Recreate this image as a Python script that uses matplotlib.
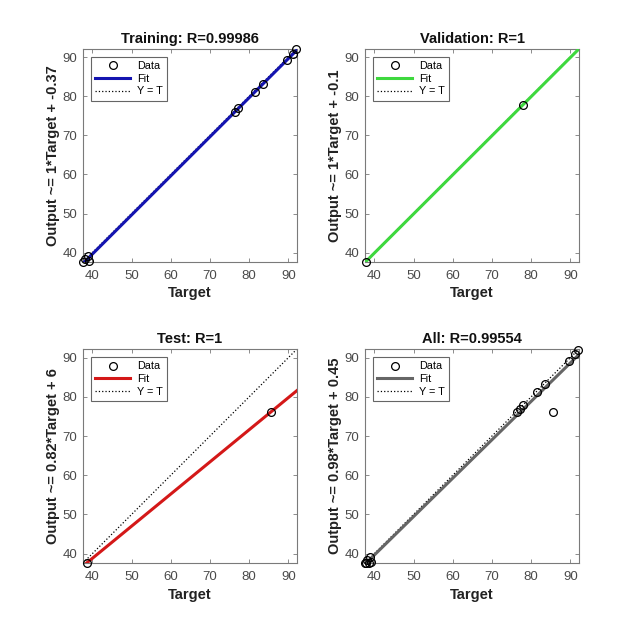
import matplotlib
matplotlib.use("Agg")
import matplotlib.pyplot as plt
import numpy as np

plt.rcParams['font.family'] = ['Liberation Sans', 'DejaVu Sans']

# values
lim = [37.6, 92.2]
ticks = [40, 50, 60, 70, 80, 90]

train_t = [37.7, 38.1, 38.9, 39.2, 76.3, 77.1, 81.5, 83.5, 89.6, 91.3, 92.0]
train_y = [37.7, 38.4, 39.2, 37.8, 76.0, 76.9, 81.2, 83.2, 89.2, 90.8, 92.0]

val_t = [37.8, 78.0]
val_y = [37.7, 77.8]

test_t = [38.6, 85.6]
test_y = [37.6, 76.0]

all_t = train_t + val_t + test_t
all_y = train_y + val_y + test_y

titles = ['Training: R=0.99986', 'Validation: R=1', 'Test: R=1', 'All: R=0.99554']
slopes = [1.0, 1.0, 0.82, 0.98]
intercepts = [-0.37, -0.1, 6.0, 0.45]
ylabels = ['Output ~= 1*Target + -0.37', 'Output ~= 1*Target + -0.1',
           'Output ~= 0.82*Target + 6', 'Output ~= 0.98*Target + 0.45']
fit_colors = ['#1414b0', '#3ed83e', '#d41818', '#666666']
targets = [train_t, val_t, test_t, all_t]
outputs = [train_y, val_y, test_y, all_y]

W, H = 640, 634
fig = plt.figure(figsize=(W / 100, H / 100), dpi=100)

# axes boxes in pixels: left, top, right, bottom
boxes = [(83, 48.5, 297, 262), (365, 48.5, 579, 262),
         (83, 349, 297, 563), (365, 349, 579, 563)]

spine_col = '#7a7a7a'
text_col = '#4a4a4a'

for i in range(4):
    l, t, r, b = boxes[i]
    ax = fig.add_axes([l / W, 1 - b / H, (r - l) / W, (b - t) / H])
    x = np.array(lim)
    ax.plot(targets[i], outputs[i], 'o', mfc='none', mec='black', ms=5.6, mew=0.9,
            label='Data', zorder=4, clip_on=False)
    ax.plot(x, slopes[i] * x + intercepts[i], '-', color=fit_colors[i], lw=2.2,
            label='Fit', zorder=3)
    ax.plot(x, x, ':', color='black', lw=0.9, label='Y = T', zorder=2)
    ax.set_xlim(lim)
    ax.set_ylim(lim)
    ax.set_xticks(ticks)
    ax.set_yticks(ticks)
    ax.tick_params(direction='in', length=3, width=0.6, colors=spine_col,
                   labelcolor=text_col, labelsize=9.5, top=True, right=True, pad=4)
    ax.tick_params(axis='x', pad=6)
    for s in ax.spines.values():
        s.set_color(spine_col)
        s.set_linewidth(0.8)
    ax.set_title(titles[i], fontsize=10.5, fontweight='bold', color='#111111', pad=4)
    ax.set_xlabel('Target', fontsize=10.5, fontweight='bold', color='#222222', labelpad=3)
    ax.set_ylabel(ylabels[i], fontsize=10.5, fontweight='bold', color='#222222', labelpad=2)
    leg = ax.legend(loc='upper left', fontsize=7.8, handlelength=3.2, borderpad=0.4,
                    labelspacing=0.25, handletextpad=0.6, fancybox=False,
                    borderaxespad=0.75, framealpha=1)
    leg.get_frame().set_edgecolor('#666666')
    leg.get_frame().set_linewidth(0.8)

fig.savefig('out.png', dpi=100, facecolor='white')
